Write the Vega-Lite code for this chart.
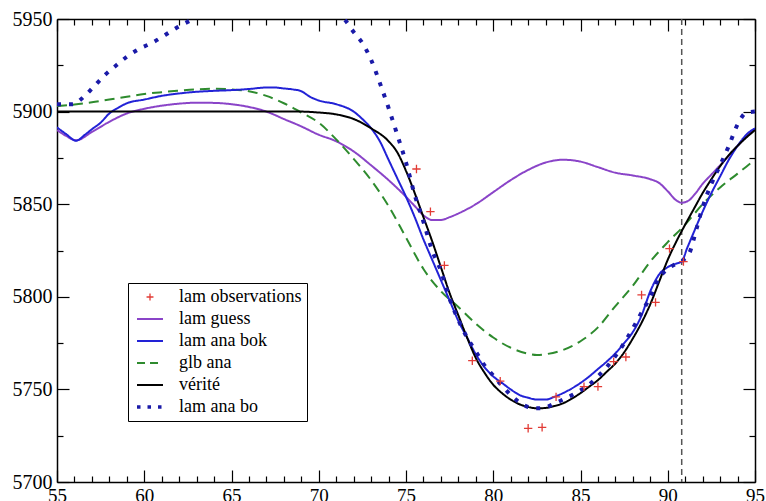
{
  "$schema": "https://vega.github.io/schema/vega-lite/v6.json",
  "width": 698,
  "height": 463,
  "autosize": {"type": "none"},
  "padding": {"left": 57, "top": 19, "right": 11, "bottom": 19},
  "background": "white",
  "config": {"view": {"stroke": null}},
  "datasets": {
    "vline": [{"x": 90.8}],
    "lines": [
      {"x":55,"y":5890,"s":"lam guess"},{"x":55.5,"y":5887,"s":"lam guess"},{"x":56.1,"y":5884.5,"s":"lam guess"},{"x":57,"y":5889,"s":"lam guess"},{"x":58,"y":5894.5,"s":"lam guess"},{"x":59,"y":5899,"s":"lam guess"},{"x":60,"y":5901.5,"s":"lam guess"},{"x":61,"y":5903.2,"s":"lam guess"},{"x":62,"y":5904.3,"s":"lam guess"},{"x":63,"y":5904.8,"s":"lam guess"},{"x":64,"y":5904.7,"s":"lam guess"},{"x":65,"y":5904,"s":"lam guess"},{"x":66,"y":5902.5,"s":"lam guess"},{"x":67,"y":5900,"s":"lam guess"},{"x":68,"y":5896,"s":"lam guess"},{"x":69,"y":5892,"s":"lam guess"},{"x":70,"y":5887.5,"s":"lam guess"},{"x":71,"y":5884,"s":"lam guess"},{"x":72,"y":5878.5,"s":"lam guess"},{"x":73,"y":5871,"s":"lam guess"},{"x":74,"y":5863,"s":"lam guess"},{"x":75,"y":5854,"s":"lam guess"},{"x":75.5,"y":5849,"s":"lam guess"},{"x":76,"y":5844,"s":"lam guess"},{"x":76.5,"y":5841.5,"s":"lam guess"},{"x":77,"y":5841.5,"s":"lam guess"},{"x":77.5,"y":5843,"s":"lam guess"},{"x":78,"y":5845,"s":"lam guess"},{"x":79,"y":5850,"s":"lam guess"},{"x":80,"y":5856.5,"s":"lam guess"},{"x":81,"y":5863,"s":"lam guess"},{"x":82,"y":5868.5,"s":"lam guess"},{"x":83,"y":5872.5,"s":"lam guess"},{"x":84,"y":5874,"s":"lam guess"},{"x":85,"y":5873,"s":"lam guess"},{"x":86,"y":5870,"s":"lam guess"},{"x":87,"y":5867,"s":"lam guess"},{"x":88,"y":5865.5,"s":"lam guess"},{"x":89,"y":5863.5,"s":"lam guess"},{"x":89.5,"y":5861.5,"s":"lam guess"},{"x":90,"y":5857,"s":"lam guess"},{"x":90.5,"y":5852,"s":"lam guess"},{"x":90.8,"y":5850.8,"s":"lam guess"},{"x":91.2,"y":5852,"s":"lam guess"},{"x":91.6,"y":5856,"s":"lam guess"},{"x":92,"y":5861,"s":"lam guess"},{"x":92.5,"y":5866,"s":"lam guess"},{"x":93,"y":5871,"s":"lam guess"},{"x":94,"y":5881.5,"s":"lam guess"},{"x":95,"y":5891,"s":"lam guess"},

      {"x":55,"y":5903,"s":"glb ana"},{"x":56,"y":5903.8,"s":"glb ana"},{"x":57,"y":5905,"s":"glb ana"},{"x":58,"y":5906.5,"s":"glb ana"},{"x":59,"y":5908,"s":"glb ana"},{"x":60,"y":5909.5,"s":"glb ana"},{"x":61,"y":5910.5,"s":"glb ana"},{"x":62,"y":5911.3,"s":"glb ana"},{"x":63,"y":5912,"s":"glb ana"},{"x":64,"y":5912.3,"s":"glb ana"},{"x":65,"y":5912,"s":"glb ana"},{"x":66,"y":5911,"s":"glb ana"},{"x":67,"y":5908.5,"s":"glb ana"},{"x":68,"y":5904.5,"s":"glb ana"},{"x":69,"y":5899.5,"s":"glb ana"},{"x":70,"y":5894,"s":"glb ana"},{"x":71,"y":5885,"s":"glb ana"},{"x":72,"y":5874.5,"s":"glb ana"},{"x":73,"y":5863,"s":"glb ana"},{"x":74,"y":5849,"s":"glb ana"},{"x":75,"y":5832,"s":"glb ana"},{"x":76,"y":5815,"s":"glb ana"},{"x":77,"y":5803,"s":"glb ana"},{"x":78,"y":5794.5,"s":"glb ana"},{"x":79,"y":5785.5,"s":"glb ana"},{"x":80,"y":5778,"s":"glb ana"},{"x":81,"y":5772.5,"s":"glb ana"},{"x":82,"y":5769.3,"s":"glb ana"},{"x":82.5,"y":5768.6,"s":"glb ana"},{"x":83,"y":5769,"s":"glb ana"},{"x":84,"y":5771.3,"s":"glb ana"},{"x":85,"y":5776,"s":"glb ana"},{"x":86,"y":5783.5,"s":"glb ana"},{"x":87,"y":5795,"s":"glb ana"},{"x":88,"y":5806,"s":"glb ana"},{"x":89,"y":5819,"s":"glb ana"},{"x":90,"y":5829.5,"s":"glb ana"},{"x":91,"y":5839,"s":"glb ana"},{"x":92,"y":5850,"s":"glb ana"},{"x":93,"y":5859,"s":"glb ana"},{"x":94,"y":5866.5,"s":"glb ana"},{"x":95,"y":5874,"s":"glb ana"},

      {"x":55,"y":5891.5,"s":"lam ana bok"},{"x":55.5,"y":5888,"s":"lam ana bok"},{"x":56.1,"y":5884.3,"s":"lam ana bok"},{"x":56.6,"y":5887.5,"s":"lam ana bok"},{"x":57,"y":5890.5,"s":"lam ana bok"},{"x":57.5,"y":5894,"s":"lam ana bok"},{"x":58,"y":5899,"s":"lam ana bok"},{"x":58.5,"y":5902,"s":"lam ana bok"},{"x":59,"y":5904.5,"s":"lam ana bok"},{"x":60,"y":5906.5,"s":"lam ana bok"},{"x":61,"y":5908.5,"s":"lam ana bok"},{"x":62,"y":5909.8,"s":"lam ana bok"},{"x":63,"y":5910.7,"s":"lam ana bok"},{"x":64,"y":5911.2,"s":"lam ana bok"},{"x":65,"y":5911.6,"s":"lam ana bok"},{"x":66,"y":5912.2,"s":"lam ana bok"},{"x":67,"y":5913,"s":"lam ana bok"},{"x":67.5,"y":5913,"s":"lam ana bok"},{"x":68,"y":5912.5,"s":"lam ana bok"},{"x":68.5,"y":5912,"s":"lam ana bok"},{"x":69,"y":5911,"s":"lam ana bok"},{"x":69.5,"y":5908,"s":"lam ana bok"},{"x":70,"y":5906,"s":"lam ana bok"},{"x":71,"y":5904,"s":"lam ana bok"},{"x":72,"y":5900,"s":"lam ana bok"},{"x":72.5,"y":5896,"s":"lam ana bok"},{"x":73,"y":5891,"s":"lam ana bok"},{"x":73.5,"y":5884,"s":"lam ana bok"},{"x":74,"y":5874,"s":"lam ana bok"},{"x":74.5,"y":5864,"s":"lam ana bok"},{"x":75,"y":5854,"s":"lam ana bok"},{"x":75.5,"y":5843,"s":"lam ana bok"},{"x":76,"y":5831,"s":"lam ana bok"},{"x":76.5,"y":5820,"s":"lam ana bok"},{"x":77,"y":5809,"s":"lam ana bok"},{"x":77.5,"y":5798,"s":"lam ana bok"},{"x":78,"y":5787,"s":"lam ana bok"},{"x":78.5,"y":5778,"s":"lam ana bok"},{"x":79,"y":5769,"s":"lam ana bok"},{"x":79.5,"y":5762,"s":"lam ana bok"},{"x":80,"y":5757,"s":"lam ana bok"},{"x":80.5,"y":5753.5,"s":"lam ana bok"},{"x":81,"y":5750,"s":"lam ana bok"},{"x":81.5,"y":5747,"s":"lam ana bok"},{"x":82,"y":5745.5,"s":"lam ana bok"},{"x":82.5,"y":5744.5,"s":"lam ana bok"},{"x":83,"y":5744.5,"s":"lam ana bok"},{"x":83.5,"y":5746,"s":"lam ana bok"},{"x":84,"y":5748,"s":"lam ana bok"},{"x":84.5,"y":5750.5,"s":"lam ana bok"},{"x":85,"y":5753.5,"s":"lam ana bok"},{"x":85.5,"y":5757,"s":"lam ana bok"},{"x":86,"y":5761,"s":"lam ana bok"},{"x":86.5,"y":5765,"s":"lam ana bok"},{"x":87,"y":5769.5,"s":"lam ana bok"},{"x":87.5,"y":5775,"s":"lam ana bok"},{"x":88,"y":5781,"s":"lam ana bok"},{"x":88.5,"y":5790,"s":"lam ana bok"},{"x":89,"y":5803,"s":"lam ana bok"},{"x":89.5,"y":5812,"s":"lam ana bok"},{"x":90,"y":5816,"s":"lam ana bok"},{"x":90.5,"y":5818,"s":"lam ana bok"},{"x":90.8,"y":5819,"s":"lam ana bok"},{"x":91.1,"y":5826,"s":"lam ana bok"},{"x":91.5,"y":5835,"s":"lam ana bok"},{"x":92,"y":5846,"s":"lam ana bok"},{"x":92.5,"y":5856,"s":"lam ana bok"},{"x":93,"y":5865,"s":"lam ana bok"},{"x":93.5,"y":5874,"s":"lam ana bok"},{"x":94,"y":5881.5,"s":"lam ana bok"},{"x":94.5,"y":5887.5,"s":"lam ana bok"},{"x":95,"y":5891,"s":"lam ana bok"},

      {"x":55,"y":5900,"s":"vérité"},{"x":60,"y":5900,"s":"vérité"},{"x":65,"y":5900,"s":"vérité"},{"x":68,"y":5900,"s":"vérité"},{"x":69,"y":5900,"s":"vérité"},{"x":70,"y":5899.5,"s":"vérité"},{"x":71,"y":5898.5,"s":"vérité"},{"x":72,"y":5896,"s":"vérité"},{"x":73,"y":5891,"s":"vérité"},{"x":74,"y":5884,"s":"vérité"},{"x":74.5,"y":5878,"s":"vérité"},{"x":75,"y":5868,"s":"vérité"},{"x":75.5,"y":5856,"s":"vérité"},{"x":76,"y":5843,"s":"vérité"},{"x":76.5,"y":5830,"s":"vérité"},{"x":77,"y":5816,"s":"vérité"},{"x":77.5,"y":5802,"s":"vérité"},{"x":78,"y":5790,"s":"vérité"},{"x":78.5,"y":5778,"s":"vérité"},{"x":79,"y":5767,"s":"vérité"},{"x":79.5,"y":5759,"s":"vérité"},{"x":80,"y":5752.5,"s":"vérité"},{"x":80.5,"y":5748,"s":"vérité"},{"x":81,"y":5744.5,"s":"vérité"},{"x":81.5,"y":5742,"s":"vérité"},{"x":82,"y":5740.5,"s":"vérité"},{"x":82.5,"y":5739.8,"s":"vérité"},{"x":83,"y":5740,"s":"vérité"},{"x":83.5,"y":5741,"s":"vérité"},{"x":84,"y":5742.5,"s":"vérité"},{"x":84.5,"y":5745,"s":"vérité"},{"x":85,"y":5748,"s":"vérité"},{"x":85.5,"y":5751.5,"s":"vérité"},{"x":86,"y":5755,"s":"vérité"},{"x":86.5,"y":5759.5,"s":"vérité"},{"x":87,"y":5764,"s":"vérité"},{"x":87.5,"y":5770,"s":"vérité"},{"x":88,"y":5777.5,"s":"vérité"},{"x":88.5,"y":5786,"s":"vérité"},{"x":89,"y":5796,"s":"vérité"},{"x":89.5,"y":5808,"s":"vérité"},{"x":90,"y":5820,"s":"vérité"},{"x":90.5,"y":5830,"s":"vérité"},{"x":91,"y":5839,"s":"vérité"},{"x":91.5,"y":5847.5,"s":"vérité"},{"x":92,"y":5856,"s":"vérité"},{"x":92.5,"y":5863.5,"s":"vérité"},{"x":93,"y":5870.5,"s":"vérité"},{"x":93.5,"y":5876.5,"s":"vérité"},{"x":94,"y":5881.5,"s":"vérité"},{"x":94.5,"y":5886,"s":"vérité"},{"x":95,"y":5890,"s":"vérité"}
    ],
    "dotted": [
      {"x":55,"y":5904,"s":"lam ana bo"},{"x":55.9,"y":5904,"s":"lam ana bo"},{"x":56.6,"y":5908.6,"s":"lam ana bo"},{"x":57.2,"y":5914.4,"s":"lam ana bo"},{"x":57.75,"y":5919.8,"s":"lam ana bo"},{"x":58.4,"y":5925,"s":"lam ana bo"},{"x":59,"y":5929.6,"s":"lam ana bo"},{"x":59.7,"y":5933.8,"s":"lam ana bo"},{"x":60.5,"y":5937.4,"s":"lam ana bo"},{"x":61.2,"y":5941.4,"s":"lam ana bo"},{"x":61.9,"y":5945.5,"s":"lam ana bo"},{"x":62.6,"y":5949,"s":"lam ana bo"},{"x":63.5,"y":5953,"s":"lam ana bo"},{"x":65,"y":5958,"s":"lam ana bo"},{"x":67,"y":5961,"s":"lam ana bo"},{"x":69,"y":5959,"s":"lam ana bo"},{"x":70.5,"y":5955,"s":"lam ana bo"},{"x":71.5,"y":5949.5,"s":"lam ana bo"},{"x":72,"y":5943,"s":"lam ana bo"},{"x":72.5,"y":5937,"s":"lam ana bo"},{"x":73,"y":5928,"s":"lam ana bo"},{"x":73.5,"y":5915.5,"s":"lam ana bo"},{"x":74,"y":5902,"s":"lam ana bo"},{"x":74.5,"y":5887.5,"s":"lam ana bo"},{"x":75,"y":5872.5,"s":"lam ana bo"},{"x":75.5,"y":5855,"s":"lam ana bo"},{"x":76,"y":5840.5,"s":"lam ana bo"},{"x":76.5,"y":5825,"s":"lam ana bo"},{"x":77,"y":5814,"s":"lam ana bo"},{"x":77.5,"y":5799,"s":"lam ana bo"},{"x":78,"y":5787.5,"s":"lam ana bo"},{"x":78.5,"y":5778,"s":"lam ana bo"},{"x":79,"y":5770.5,"s":"lam ana bo"},{"x":79.5,"y":5763,"s":"lam ana bo"},{"x":80,"y":5757.5,"s":"lam ana bo"},{"x":80.5,"y":5752,"s":"lam ana bo"},{"x":81,"y":5747,"s":"lam ana bo"},{"x":81.5,"y":5743,"s":"lam ana bo"},{"x":82,"y":5740.5,"s":"lam ana bo"},{"x":82.5,"y":5739.8,"s":"lam ana bo"},{"x":83,"y":5740.3,"s":"lam ana bo"},{"x":83.5,"y":5742.3,"s":"lam ana bo"},{"x":84,"y":5744.5,"s":"lam ana bo"},{"x":84.5,"y":5746.8,"s":"lam ana bo"},{"x":85,"y":5749.5,"s":"lam ana bo"},{"x":85.5,"y":5752.7,"s":"lam ana bo"},{"x":86,"y":5757,"s":"lam ana bo"},{"x":86.5,"y":5762,"s":"lam ana bo"},{"x":87,"y":5768,"s":"lam ana bo"},{"x":87.5,"y":5775,"s":"lam ana bo"},{"x":88,"y":5783,"s":"lam ana bo"},{"x":88.5,"y":5791.5,"s":"lam ana bo"},{"x":89,"y":5800,"s":"lam ana bo"},{"x":89.5,"y":5810,"s":"lam ana bo"},{"x":90,"y":5815,"s":"lam ana bo"},{"x":90.5,"y":5818,"s":"lam ana bo"},{"x":90.9,"y":5820,"s":"lam ana bo"},{"x":91.3,"y":5825,"s":"lam ana bo"},{"x":91.5,"y":5831.5,"s":"lam ana bo"},{"x":92,"y":5848.5,"s":"lam ana bo"},{"x":92.5,"y":5861,"s":"lam ana bo"},{"x":93,"y":5871,"s":"lam ana bo"},{"x":93.5,"y":5881.5,"s":"lam ana bo"},{"x":94,"y":5893,"s":"lam ana bo"},{"x":94.5,"y":5899.4,"s":"lam ana bo"},{"x":95,"y":5900,"s":"lam ana bo"}
    ],
    "obs": [
      {"x":75.6,"y":5869,"s":"lam observations"},{"x":76.4,"y":5846,"s":"lam observations"},{"x":77.2,"y":5817,"s":"lam observations"},{"x":78.8,"y":5765.5,"s":"lam observations"},{"x":80.4,"y":5754.5,"s":"lam observations"},{"x":82.0,"y":5729,"s":"lam observations"},{"x":82.8,"y":5729.5,"s":"lam observations"},{"x":83.6,"y":5746,"s":"lam observations"},{"x":85.2,"y":5751.5,"s":"lam observations"},{"x":86.0,"y":5751.5,"s":"lam observations"},{"x":86.9,"y":5765,"s":"lam observations"},{"x":87.6,"y":5767.5,"s":"lam observations"},{"x":88.5,"y":5801,"s":"lam observations"},{"x":89.3,"y":5797,"s":"lam observations"},{"x":90.1,"y":5826,"s":"lam observations"},{"x":90.9,"y":5819,"s":"lam observations"}
    ]
  },
  "layer": [
    {
      "data": {"name": "vline"},
      "mark": {"type": "rule", "color": "#555555", "strokeDash": [6, 4], "strokeWidth": 1.5},
      "encoding": {
        "x": {"field": "x", "type": "quantitative", "scale": {"domain": [55, 95], "nice": false, "zero": false}, "axis": null}
      }
    },
    {
      "data": {"name": "lines"},
      "mark": {"type": "line", "interpolate": "monotone", "clip": true, "strokeWidth": 2},
      "encoding": {
        "x": {
          "field": "x", "type": "quantitative",
          "scale": {"domain": [55, 95], "nice": false, "zero": false},
          "axis": {
            "orient": "bottom", "title": null, "grid": false,
            "values": [55,56,57,58,59,60,61,62,63,64,65,66,67,68,69,70,71,72,73,74,75,76,77,78,79,80,81,82,83,84,85,86,87,88,89,90,91,92,93,94,95],
            "format": "d",
            "labelExpr": "datum.value % 5 === 0 ? datum.label : ''",
            "tickSize": -12,
            "tickDash": {"condition": {"test": "datum.value % 5 === 0", "value": [12, 0]}, "value": [6, 40]},
            "labelPadding": 16, "labelFlush": false, "labelOverlap": false,
            "labelFont": "Liberation Serif", "labelFontSize": 19, "labelColor": "black",
            "domainColor": "black", "domainWidth": 1.5, "tickColor": "black", "tickWidth": 1.2
          }
        },
        "y": {
          "field": "y", "type": "quantitative",
          "scale": {"domain": [5700, 5950], "nice": false, "zero": false},
          "axis": {
            "orient": "left", "title": null, "grid": false,
            "values": [5700,5725,5750,5775,5800,5825,5850,5875,5900,5925,5950],
            "format": "d",
            "labelExpr": "datum.value % 50 === 0 ? datum.label : ''",
            "tickSize": -12,
            "tickDash": {"condition": {"test": "datum.value % 50 === 0", "value": [12, 0]}, "value": [6, 40]},
            "labelPadding": 17, "labelFlush": false, "labelOverlap": false,
            "labelFont": "Liberation Serif", "labelFontSize": 20, "labelColor": "black",
            "domainColor": "black", "domainWidth": 1.5, "tickColor": "black", "tickWidth": 1.2
          }
        },
        "color": {
          "field": "s", "type": "nominal",
          "scale": {
            "domain": ["lam observations", "lam guess", "lam ana bok", "glb ana", "vérité", "lam ana bo"],
            "range": ["#e23b35", "#8a44c8", "#2222d6", "#2e8b2e", "#000000", "#1a1aa8"]
          },
          "legend": {
            "orient": "none", "legendX": 71, "legendY": 264, "title": null,
            "padding": 5, "strokeColor": "black", "fillColor": "white", "cornerRadius": 0,
            "labelFont": "Liberation Serif", "labelFontSize": 18, "labelColor": "black",
            "symbolType": "M-1.5,0H1.5", "symbolSize": 300, "symbolStrokeWidth": 2,
            "symbolOffset": 8, "labelOffset": 20, "rowPadding": 4,
            "encode": {
              "symbols": {
                "update": {
                  "shape": {"signal": "datum.value === 'lam observations' ? 'M-0.4,0H0.4M0,-0.4V0.4' : 'M-1.5,0H1.5'"},
                  "strokeDash": {"signal": "datum.value === 'glb ana' ? [8,5] : datum.value === 'lam ana bo' ? [3.5,7] : [1,0]"},
                  "strokeWidth": {"signal": "datum.value === 'lam ana bo' ? 3.5 : datum.value === 'lam observations' ? 1.3 : 2"},
                  "fill": {"value": "transparent"},
                  "opacity": {"value": 1}
                }
              }
            }
          }
        },
        "strokeDash": {
          "field": "s", "type": "nominal",
          "scale": {"domain": ["lam guess", "lam ana bok", "glb ana", "vérité"], "range": [[1, 0], [1, 0], [10, 6], [1, 0]]},
          "legend": null
        }
      }
    },
    {
      "data": {"name": "dotted"},
      "mark": {"type": "line", "interpolate": "monotone", "clip": true, "strokeWidth": 4, "strokeDash": [4, 8]},
      "encoding": {
        "x": {"field": "x", "type": "quantitative", "axis": null},
        "y": {"field": "y", "type": "quantitative", "axis": null},
        "color": {"field": "s", "type": "nominal"}
      }
    },
    {
      "data": {"name": "obs"},
      "mark": {"type": "point", "shape": "M-1,0H1M0,-1V1", "filled": false, "size": 70, "strokeWidth": 1.3, "opacity": 1},
      "encoding": {
        "x": {
          "field": "x", "type": "quantitative",
          "axis": {
            "orient": "top", "title": null, "grid": false, "labels": false,
            "values": [55,56,57,58,59,60,61,62,63,64,65,66,67,68,69,70,71,72,73,74,75,76,77,78,79,80,81,82,83,84,85,86,87,88,89,90,91,92,93,94,95],
            "tickSize": -12,
            "tickDash": {"condition": {"test": "datum.value % 5 === 0", "value": [12, 0]}, "value": [6, 40]},
            "domainColor": "black", "domainWidth": 1.5, "tickColor": "black", "tickWidth": 1.2
          }
        },
        "y": {
          "field": "y", "type": "quantitative",
          "axis": {
            "orient": "right", "title": null, "grid": false, "labels": false,
            "values": [5700,5725,5750,5775,5800,5825,5850,5875,5900,5925,5950],
            "tickSize": -12,
            "tickDash": {"condition": {"test": "datum.value % 50 === 0", "value": [12, 0]}, "value": [6, 40]},
            "domainColor": "black", "domainWidth": 1.5, "tickColor": "black", "tickWidth": 1.2
          }
        },
        "color": {"field": "s", "type": "nominal"}
      }
    }
  ],
  "resolve": {"axis": {"x": "independent", "y": "independent"}}
}
